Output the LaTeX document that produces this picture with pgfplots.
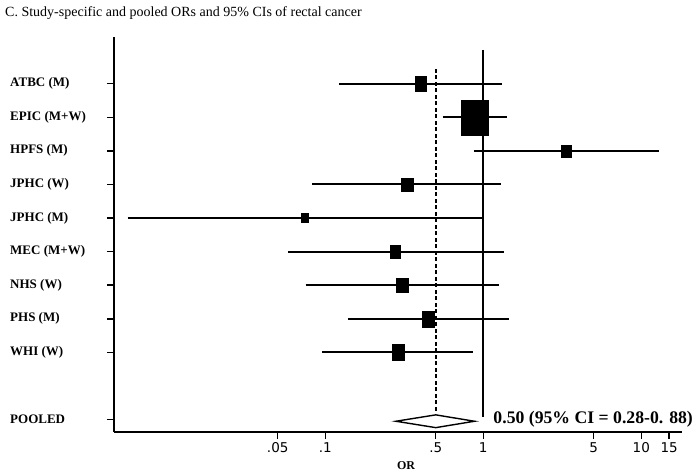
\documentclass[border=0pt]{standalone}
\usepackage{fontspec}
\setmainfont{Liberation Serif}
\newfontfamily\tickfont{DejaVu Sans}
\usepackage{pgfplots}
\pgfplotsset{compat=1.18}
\usepackage{pgfplotstable}

% confidence intervals (lower, upper)
\pgfplotstableread{
x       y
0.122   -1
1.32    -1
nan     nan
0.553   -2
1.41    -2
nan     nan
0.87    -3
12.9    -3
nan     nan
0.083   -4
1.29    -4
nan     nan
0.00562 -5
0.99    -5
nan     nan
0.0583  -6
1.35    -6
nan     nan
0.075   -7
1.26    -7
nan     nan
0.139   -8
1.45    -8
nan     nan
0.0957  -9
0.865   -9
}\cis

\begin{document}
\begin{tikzpicture}
\path[use as bounding box] (0,0) rectangle (698bp,476bp);
\node[anchor=west, inner sep=0pt, font=\fontsize{14bp}{16bp}\selectfont] at (5bp,463bp)
  {C. Study-specific and pooled ORs and 95\% CIs of rectal cancer};
\begin{axis}[
  at={(114bp,44bp)}, anchor=south west,
  scale only axis, width=568bp, height=395bp,
  xmode=log, xmin=0.0046, xmax=18.1,
  ymin=-11.37, ymax=0.39,
  axis x line=bottom, axis y line=left,
  axis line style={-, line width=2bp},
  tick align=outside, major tick length=7bp,
  tick style={line width=1.5bp, black},
  minor tick num=0, log ticks with fixed point,
  xtick={0.05,0.1,0.5,1,5,10,15},
  xticklabels={.05,.1,.5,1,5,10,15},
  xticklabel style={font=\tickfont\fontsize{13.5bp}{15bp}\selectfont},
  ytick={-1,-2,-3,-4,-5,-6,-7,-8,-9,-11},
  yticklabels={ATBC (M),EPIC (M+W),HPFS (M),JPHC (W),JPHC (M),MEC (M+W),NHS (W),PHS (M),WHI (W),POOLED},
  yticklabel style={anchor=west, inner sep=0pt, xshift=-97bp, font=\bfseries\fontsize{13bp}{15bp}\selectfont},
  xlabel={OR},
  xlabel style={font=\bfseries\fontsize{12bp}{13bp}\selectfont, at={(axis description cs:0.5,0)}, anchor=center, yshift=-34bp, xshift=8bp},
  clip=false,
]
% reference lines
\addplot[black, line width=1.8bp] coordinates {(1,0) (1,-10.92)};
\addplot[black, line width=1.6bp, dash pattern=on 4bp off 2.5bp] coordinates {(0.5,-0.56) (0.5,-10.81)};
% confidence intervals
\addplot[black, line width=1.9bp, unbounded coords=jump] table[x=x, y=y] {\cis};
% boxes (study weights)
\addplot[only marks, mark=square*, black, mark size=5.7bp, mark options={yscale=1.3}] coordinates {(0.40,-1)};
\addplot[only marks, mark=square*, black, mark size=13.5bp, mark options={yscale=1.3}] coordinates {(0.88,-2)};
\addplot[only marks, mark=square*, black, mark size=4.7bp, mark options={yscale=1.3}] coordinates {(3.35,-3)};
\addplot[only marks, mark=square*, black, mark size=5.8bp, mark options={yscale=1.15}] coordinates {(0.331,-4)};
\addplot[only marks, mark=square*, black, mark size=3.4bp, mark options={yscale=1.3}] coordinates {(0.0744,-5)};
\addplot[only marks, mark=square*, black, mark size=4.7bp, mark options={yscale=1.4}] coordinates {(0.277,-6)};
\addplot[only marks, mark=square*, black, mark size=5.6bp, mark options={yscale=1.2}] coordinates {(0.307,-7)};
\addplot[only marks, mark=square*, black, mark size=5.9bp, mark options={yscale=1.35}] coordinates {(0.449,-8)};
\addplot[only marks, mark=square*, black, mark size=6.3bp, mark options={yscale=1.27}] coordinates {(0.290,-9)};
% pooled diamond
\addplot[black, fill=white, line width=1.4bp] coordinates {(0.28,-11.05) (0.50,-10.86) (0.88,-11.05) (0.50,-11.24)} -- cycle;
\node[anchor=west, inner sep=0pt, font=\bfseries\fontsize{17.7bp}{19bp}\selectfont] at (axis cs:1.157,-11) {0.50 (95\% CI = 0.28-0. 88)};
\end{axis}
\end{tikzpicture}
\end{document}
